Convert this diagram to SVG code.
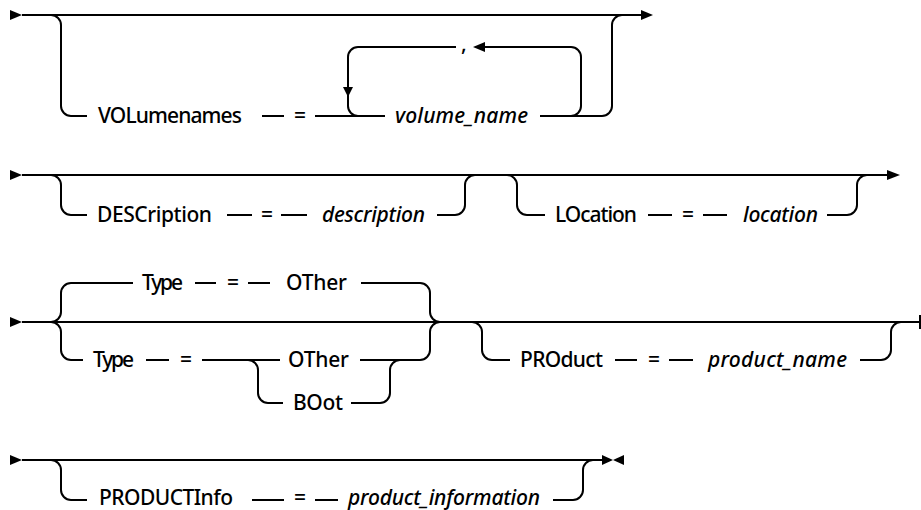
<svg xmlns="http://www.w3.org/2000/svg" width="921" height="510" viewBox="0 0 921 510">
<style>
.l{fill:none;stroke:#000;stroke-width:2}
.a{fill:#000;stroke:none}
text{font-family:"Noto Sans","DejaVu Sans",sans-serif;font-size:21px;font-weight:500;fill:#000}
.i{font-style:italic}
</style>
<rect width="921" height="510" fill="#fff"/>
<g id="connectors">
  <!-- row 1 -->
  <polygon class="a" points="10,10 22,15 10,20"/>
  <path class="l" d="M22,15 H641"/>
  <polygon class="a" points="641,10 653,15 641,20"/>
  <path class="l" d="M51,15 A10,10 0 0 1 61,25 V106 A10,10 0 0 0 71,116 H87"/>
  <path class="l" d="M262,116 H284"/>
  <path class="l" d="M315,116 H385"/>
  <path class="l" d="M358,47 A10,10 0 0 0 348,57 V106 A10,10 0 0 0 358,116"/>
  <path class="l" d="M358,47 H456"/>
  <polygon class="a" points="343,87 353,87 348,97"/>
  <path class="l" d="M540,116 H602 A10,10 0 0 0 612,106 V25 A10,10 0 0 1 622,15"/>
  <path class="l" d="M571,116 A10,10 0 0 0 581,106 V57 A10,10 0 0 0 571,47 H484"/>
  <polygon class="a" points="485,42 473,47 485,52"/>
  <!-- row 2 -->
  <polygon class="a" points="10,170 22,175 10,180"/>
  <path class="l" d="M22,175 H887"/>
  <polygon class="a" points="887,170 900,175 887,180"/>
  <path class="l" d="M51,175 A10,10 0 0 1 61,185 V205 A10,10 0 0 0 71,215 H87"/>
  <path class="l" d="M227,215 H252 M281,215 H307"/>
  <path class="l" d="M437,215 H455 A10,10 0 0 0 465,205 V185 A10,10 0 0 1 475,175"/>
  <path class="l" d="M507,175 A10,10 0 0 1 517,185 V205 A10,10 0 0 0 527,215 H545"/>
  <path class="l" d="M648,215 H672 M703,215 H727"/>
  <path class="l" d="M827,215 H847 A10,10 0 0 0 857,205 V185 A10,10 0 0 1 867,175"/>
  <!-- row 3 -->
  <polygon class="a" points="10,317 22,322 10,327"/>
  <path class="l" d="M22,322 H921"/>
  <path class="l" d="M920,315 V329"/>
  <path class="l" d="M71,283 A10,10 0 0 0 61,293 V312 A10,10 0 0 1 51,322 A10,10 0 0 1 61,332 V350 A10,10 0 0 0 71,360"/>
  <path class="l" d="M71,283 H133 M195,283 H216 M248,283 H270 M361,283 H420"/>
  <path class="l" d="M420,283 A10,10 0 0 1 430,293 V312 A10,10 0 0 0 440,322 A10,10 0 0 0 430,332 V350 A10,10 0 0 1 420,360"/>
  <path class="l" d="M71,360 H83 M146,360 H169 M202,360 H280 M360,360 H420"/>
  <path class="l" d="M248,360 A10,10 0 0 1 258,370 V393 A10,10 0 0 0 268,403 H283"/>
  <path class="l" d="M351,403 H380 A10,10 0 0 0 390,393 V370 A10,10 0 0 1 400,360"/>
  <path class="l" d="M472,322 A10,10 0 0 1 482,332 V350 A10,10 0 0 0 492,360 H510"/>
  <path class="l" d="M615,360 H637 M669,360 H693"/>
  <path class="l" d="M860,360 H881 A10,10 0 0 0 891,350 V332 A10,10 0 0 1 901,322"/>
  <!-- row 4 -->
  <polygon class="a" points="10,455 22,460 10,465"/>
  <path class="l" d="M22,460 H602"/>
  <polygon class="a" points="602,455 613,460 602,465"/>
  <polygon class="a" points="624,455 613,460 624,465"/>
  <path class="l" d="M51,460 A10,10 0 0 1 61,470 V490 A10,10 0 0 0 71,500 H87"/>
  <path class="l" d="M252,500 H284 M315,500 H338"/>
  <path class="l" d="M553,500 H573 A10,10 0 0 0 583,490 V470 A10,10 0 0 1 593,460"/>
</g>
<g id="n-volumenames"><text x="98" y="123" textLength="144">VOLumenames</text></g>
<g id="n-eq1"><text x="294" y="123">=</text></g>
<g id="n-volume_name"><text class="i" x="395" y="123" textLength="133">volume_name</text></g>
<g id="n-comma"><text x="461" y="51">,</text></g>
<g id="n-description-kw"><text x="97" y="222" textLength="115">DESCription</text></g>
<g id="n-eq2"><text x="261" y="222">=</text></g>
<g id="n-description"><text class="i" x="322" y="222" textLength="103">description</text></g>
<g id="n-location-kw"><text x="555" y="222" textLength="82">LOcation</text></g>
<g id="n-eq3"><text x="682" y="222">=</text></g>
<g id="n-location"><text class="i" x="743" y="222" textLength="75">location</text></g>
<g id="n-type-default"><text x="142" y="290" textLength="41">Type</text></g>
<g id="n-eq4"><text x="227" y="290">=</text></g>
<g id="n-other-default"><text x="286" y="290" textLength="61">OTher</text></g>
<g id="n-type"><text x="93" y="367" textLength="41">Type</text></g>
<g id="n-eq5"><text x="180" y="367">=</text></g>
<g id="n-other"><text x="288" y="367" textLength="61">OTher</text></g>
<g id="n-boot"><text x="293" y="410" textLength="50">BOot</text></g>
<g id="n-product-kw"><text x="520" y="367" textLength="83">PROduct</text></g>
<g id="n-eq6"><text x="648" y="367">=</text></g>
<g id="n-product_name"><text class="i" x="708" y="367" textLength="139">product_name</text></g>
<g id="n-productinfo-kw"><text x="99" y="505" textLength="134">PRODUCTInfo</text></g>
<g id="n-eq7"><text x="294" y="505">=</text></g>
<g id="n-product_information"><text class="i" x="348" y="505" textLength="192">product_information</text></g>
</svg>
